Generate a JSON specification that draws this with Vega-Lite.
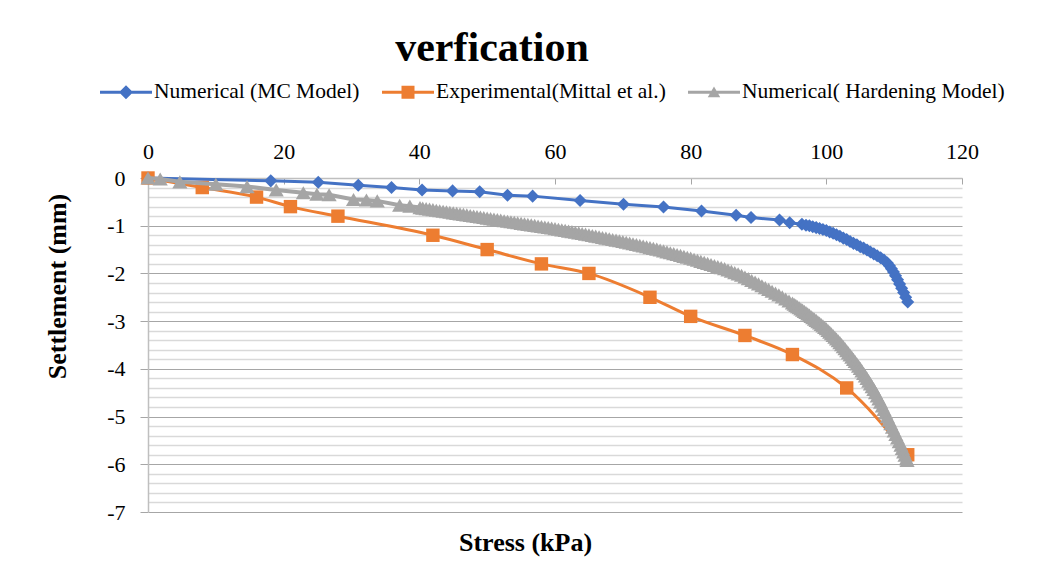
{
  "$schema": "https://vega.github.io/schema/vega-lite/v6.json",
  "autosize": {"type": "none"},
  "width": 814,
  "height": 334,
  "padding": {"left": 148, "top": 178, "right": 81, "bottom": 66},
  "background": "#ffffff",
  "config": {"font": "Liberation Serif", "view": {"stroke": null}},
  "title": {"text": "verfication", "font": "Liberation Serif", "fontSize": 42, "fontWeight": "bold", "color": "#000000", "anchor": "middle", "dx": -63, "dy": 8},
  "datasets": {
    "mc": [
      {"x": 0, "y": 0}, {"x": 18.1, "y": -0.06}, {"x": 25.1, "y": -0.09}, {"x": 31.0, "y": -0.15}, {"x": 35.9, "y": -0.2},
      {"x": 40.4, "y": -0.25}, {"x": 44.9, "y": -0.27}, {"x": 48.9, "y": -0.29}, {"x": 53.0, "y": -0.36}, {"x": 56.7, "y": -0.38},
      {"x": 63.7, "y": -0.47}, {"x": 70.1, "y": -0.55}, {"x": 76.0, "y": -0.61}, {"x": 81.6, "y": -0.69}, {"x": 86.7, "y": -0.78},
      {"x": 88.9, "y": -0.83}, {"x": 93.1, "y": -0.88}, {"x": 94.6, "y": -0.94}, {"x": 96.4, "y": -0.97}, {"x": 97.0, "y": -0.99},
      {"x": 97.5, "y": -1.0}, {"x": 98.0, "y": -1.02}, {"x": 98.5, "y": -1.04}, {"x": 99.0, "y": -1.06}, {"x": 99.5, "y": -1.08},
      {"x": 100.0, "y": -1.1}, {"x": 100.5, "y": -1.13}, {"x": 101.0, "y": -1.16}, {"x": 101.5, "y": -1.19}, {"x": 102.0, "y": -1.22},
      {"x": 102.5, "y": -1.26}, {"x": 103.0, "y": -1.29}, {"x": 103.5, "y": -1.33}, {"x": 104.0, "y": -1.37}, {"x": 104.5, "y": -1.4},
      {"x": 105.0, "y": -1.44}, {"x": 105.5, "y": -1.47}, {"x": 106.0, "y": -1.51}, {"x": 106.5, "y": -1.55}, {"x": 107.0, "y": -1.59},
      {"x": 107.5, "y": -1.63}, {"x": 108.0, "y": -1.67}, {"x": 108.5, "y": -1.72}, {"x": 109.0, "y": -1.78}, {"x": 109.3, "y": -1.84},
      {"x": 109.6, "y": -1.9}, {"x": 109.9, "y": -1.97}, {"x": 110.2, "y": -2.05}, {"x": 110.5, "y": -2.13}, {"x": 110.8, "y": -2.22},
      {"x": 111.1, "y": -2.31}, {"x": 111.4, "y": -2.4}, {"x": 111.7, "y": -2.5}, {"x": 112.0, "y": -2.6}
    ],
    "exp": [
      {"x": 0, "y": 0}, {"x": 8, "y": -0.2}, {"x": 16, "y": -0.4}, {"x": 21, "y": -0.6}, {"x": 28, "y": -0.8},
      {"x": 42, "y": -1.2}, {"x": 50, "y": -1.5}, {"x": 58, "y": -1.8}, {"x": 65, "y": -2.0}, {"x": 74, "y": -2.5},
      {"x": 80, "y": -2.9}, {"x": 88, "y": -3.3}, {"x": 95, "y": -3.7}, {"x": 103, "y": -4.4}, {"x": 112, "y": -5.8}
    ],
    "hard": [
      {"x": 0, "y": 0}, {"x": 1.8, "y": -0.02}, {"x": 4.7, "y": -0.08}, {"x": 10, "y": -0.13}, {"x": 14.6, "y": -0.18},
      {"x": 18.9, "y": -0.25}, {"x": 22.9, "y": -0.31}, {"x": 24.9, "y": -0.34}, {"x": 26.7, "y": -0.35}, {"x": 30.3, "y": -0.45},
      {"x": 32.2, "y": -0.46}, {"x": 33.8, "y": -0.48}, {"x": 37.1, "y": -0.57}, {"x": 38.6, "y": -0.59}, {"x": 40.1, "y": -0.62},
      {"x": 40.5, "y": -0.631}, {"x": 41, "y": -0.642}, {"x": 41.5, "y": -0.653}, {"x": 42, "y": -0.664}, {"x": 42.5, "y": -0.675},
      {"x": 43, "y": -0.686}, {"x": 43.5, "y": -0.697}, {"x": 44, "y": -0.708}, {"x": 44.5, "y": -0.719}, {"x": 45, "y": -0.73},
      {"x": 45.5, "y": -0.741}, {"x": 46, "y": -0.752}, {"x": 46.5, "y": -0.763}, {"x": 47, "y": -0.774}, {"x": 47.5, "y": -0.785},
      {"x": 48, "y": -0.796}, {"x": 48.5, "y": -0.807}, {"x": 49, "y": -0.818}, {"x": 49.5, "y": -0.829}, {"x": 50, "y": -0.84},
      {"x": 50.5, "y": -0.851}, {"x": 51, "y": -0.862}, {"x": 51.5, "y": -0.873}, {"x": 52, "y": -0.884}, {"x": 52.5, "y": -0.895},
      {"x": 53, "y": -0.906}, {"x": 53.5, "y": -0.917}, {"x": 54, "y": -0.928}, {"x": 54.5, "y": -0.939}, {"x": 55, "y": -0.95},
      {"x": 55.5, "y": -0.961}, {"x": 56, "y": -0.972}, {"x": 56.5, "y": -0.983}, {"x": 57, "y": -0.994}, {"x": 57.5, "y": -1.005},
      {"x": 58, "y": -1.016}, {"x": 58.5, "y": -1.027}, {"x": 59, "y": -1.038}, {"x": 59.5, "y": -1.049}, {"x": 60, "y": -1.06},
      {"x": 60.5, "y": -1.073}, {"x": 61, "y": -1.086}, {"x": 61.5, "y": -1.099}, {"x": 62, "y": -1.112}, {"x": 62.5, "y": -1.125},
      {"x": 63, "y": -1.138}, {"x": 63.5, "y": -1.151}, {"x": 64, "y": -1.164}, {"x": 64.5, "y": -1.177}, {"x": 65, "y": -1.19},
      {"x": 65.5, "y": -1.204}, {"x": 66, "y": -1.218}, {"x": 66.5, "y": -1.232}, {"x": 67, "y": -1.246}, {"x": 67.5, "y": -1.26},
      {"x": 68, "y": -1.274}, {"x": 68.5, "y": -1.288}, {"x": 69, "y": -1.302}, {"x": 69.5, "y": -1.316}, {"x": 70, "y": -1.33},
      {"x": 70.5, "y": -1.346}, {"x": 71, "y": -1.362}, {"x": 71.5, "y": -1.378}, {"x": 72, "y": -1.394}, {"x": 72.5, "y": -1.41},
      {"x": 73, "y": -1.426}, {"x": 73.5, "y": -1.442}, {"x": 74, "y": -1.458}, {"x": 74.5, "y": -1.474}, {"x": 75, "y": -1.49},
      {"x": 75.5, "y": -1.509}, {"x": 76, "y": -1.528}, {"x": 76.5, "y": -1.547}, {"x": 77, "y": -1.566}, {"x": 77.5, "y": -1.585},
      {"x": 78, "y": -1.604}, {"x": 78.5, "y": -1.623}, {"x": 79, "y": -1.642}, {"x": 79.5, "y": -1.661}, {"x": 80, "y": -1.68},
      {"x": 80.5, "y": -1.702}, {"x": 81, "y": -1.724}, {"x": 81.5, "y": -1.746}, {"x": 82, "y": -1.768}, {"x": 82.5, "y": -1.79},
      {"x": 83, "y": -1.812}, {"x": 83.5, "y": -1.834}, {"x": 84, "y": -1.856}, {"x": 84.5, "y": -1.878}, {"x": 85, "y": -1.9},
      {"x": 85.5, "y": -1.927}, {"x": 86, "y": -1.955}, {"x": 86.5, "y": -1.982}, {"x": 87, "y": -2.01}, {"x": 87.5, "y": -2.037},
      {"x": 88, "y": -2.074}, {"x": 88.5, "y": -2.11}, {"x": 89, "y": -2.147}, {"x": 89.5, "y": -2.183}, {"x": 90, "y": -2.22},
      {"x": 90.5, "y": -2.258}, {"x": 91, "y": -2.297}, {"x": 91.5, "y": -2.335}, {"x": 92, "y": -2.373}, {"x": 92.5, "y": -2.412},
      {"x": 93, "y": -2.45}, {"x": 93.5, "y": -2.492}, {"x": 94, "y": -2.535}, {"x": 94.5, "y": -2.577}, {"x": 95, "y": -2.62},
      {"x": 95.25, "y": -2.645}, {"x": 95.5, "y": -2.67}, {"x": 95.75, "y": -2.695}, {"x": 96, "y": -2.72}, {"x": 96.25, "y": -2.745},
      {"x": 96.5, "y": -2.77}, {"x": 96.75, "y": -2.795}, {"x": 97, "y": -2.82}, {"x": 97.25, "y": -2.847}, {"x": 97.5, "y": -2.874},
      {"x": 97.75, "y": -2.902}, {"x": 98, "y": -2.93}, {"x": 98.25, "y": -2.957}, {"x": 98.5, "y": -2.985}, {"x": 98.75, "y": -3.012},
      {"x": 99, "y": -3.04}, {"x": 99.25, "y": -3.07}, {"x": 99.5, "y": -3.1}, {"x": 99.75, "y": -3.13}, {"x": 100, "y": -3.16},
      {"x": 100.25, "y": -3.195}, {"x": 100.5, "y": -3.23}, {"x": 100.75, "y": -3.265}, {"x": 101, "y": -3.3}, {"x": 101.25, "y": -3.337},
      {"x": 101.5, "y": -3.375}, {"x": 101.75, "y": -3.412}, {"x": 102, "y": -3.45}, {"x": 102.25, "y": -3.492}, {"x": 102.5, "y": -3.535},
      {"x": 102.75, "y": -3.577}, {"x": 103, "y": -3.62}, {"x": 103.25, "y": -3.665}, {"x": 103.5, "y": -3.71}, {"x": 103.75, "y": -3.755},
      {"x": 104, "y": -3.8}, {"x": 104.25, "y": -3.847}, {"x": 104.5, "y": -3.895}, {"x": 104.75, "y": -3.942}, {"x": 105, "y": -3.99},
      {"x": 105.25, "y": -4.042}, {"x": 105.5, "y": -4.095}, {"x": 105.75, "y": -4.147}, {"x": 106, "y": -4.2}, {"x": 106.25, "y": -4.257},
      {"x": 106.5, "y": -4.315}, {"x": 106.75, "y": -4.372}, {"x": 107, "y": -4.43}, {"x": 107.25, "y": -4.497}, {"x": 107.5, "y": -4.565},
      {"x": 107.75, "y": -4.632}, {"x": 108, "y": -4.7}, {"x": 108.25, "y": -4.775}, {"x": 108.5, "y": -4.85}, {"x": 108.75, "y": -4.925},
      {"x": 109, "y": -5.0}, {"x": 109.25, "y": -5.075}, {"x": 109.5, "y": -5.15}, {"x": 109.75, "y": -5.225}, {"x": 110, "y": -5.3},
      {"x": 110.25, "y": -5.375}, {"x": 110.5, "y": -5.45}, {"x": 110.75, "y": -5.525}, {"x": 111, "y": -5.6}, {"x": 111.2, "y": -5.67},
      {"x": 111.4, "y": -5.74}, {"x": 111.6, "y": -5.81}, {"x": 111.8, "y": -5.88}, {"x": 111.9, "y": -5.92}
    ],
    "names": [
      {"series": "Numerical (MC Model)"}, {"series": "Experimental(Mittal et al.)"}, {"series": "Numerical( Hardening Model)"}
    ]
  },
  "resolve": {"axis": {"y": "independent"}},
  "layer": [
    {
      "data": {"name": "mc"},
      "mark": {"type": "line", "strokeWidth": 3},
      "encoding": {
        "x": {"field": "x", "type": "quantitative", "scale": {"domain": [0, 120], "nice": false},
          "axis": {"orient": "top", "values": [0, 20, 40, 60, 80, 100, 120], "grid": false, "domainColor": "#BFBFBF", "domainWidth": 1.5,
            "tickColor": "#A6A6A6", "tickSize": -6, "labelFontSize": 22, "labelColor": "#000000", "labelFont": "Liberation Serif", "labelPadding": 21, "labelFlush": false,
            "title": "Stress (kPa)", "titleFont": "Liberation Serif", "titleFontSize": 26, "titleFontWeight": "bold", "titleColor": "#000000",
            "titleX": 377, "titleY": 364, "titleAlign": "center", "titleBaseline": "middle", "titleAngle": 0}},
        "y": {"field": "y", "type": "quantitative", "scale": {"domain": [-7, 0], "nice": false},
          "axis": {"orient": "left", "values": [-6.8, -6.6, -6.4, -6.2, -5.8, -5.6, -5.4, -5.2, -4.8, -4.6, -4.4, -4.2, -3.8, -3.6, -3.4, -3.2, -2.8, -2.6, -2.4, -2.2, -1.8, -1.6, -1.4, -1.2, -0.8, -0.6, -0.4, -0.2],
            "grid": true, "gridColor": "#D9D9D9", "gridWidth": 1.5, "labels": false, "ticks": false, "domain": false, "title": null}},
        "color": {"datum": "Numerical (MC Model)", "scale": {"domain": ["Numerical (MC Model)", "Experimental(Mittal et al.)", "Numerical( Hardening Model)"], "range": ["#4472C4", "#ED7D31", "#A5A5A5"]}},
        "order": {"field": "x"}
      }
    },
    {
      "data": {"name": "mc"},
      "mark": {"type": "point", "shape": "diamond", "filled": true, "opacity": 1, "size": 170},
      "encoding": {
        "x": {"field": "x", "type": "quantitative"},
        "y": {"field": "y", "type": "quantitative",
          "axis": {"orient": "left", "values": [-7, -6, -5, -4, -3, -2, -1, 0], "grid": true, "gridColor": "#A6A6A6", "gridWidth": 1,
            "domainColor": "#BFBFBF", "domainWidth": 1.5, "tickColor": "#A6A6A6", "tickSize": 8, "labelFontSize": 22, "labelColor": "#000000",
            "labelFont": "Liberation Serif", "labelPadding": 15, "labelFlush": false, "labelExpr": "'' + datum.value",
            "title": "Settlement (mm)", "titleFont": "Liberation Serif", "titleFontSize": 26, "titleFontWeight": "bold", "titleColor": "#000000",
            "titleX": -91, "titleY": 108, "titleAngle": -90, "titleAlign": "center", "titleBaseline": "middle"}},
        "color": {"datum": "Numerical (MC Model)"}
      }
    },
    {
      "data": {"name": "exp"},
      "mark": {"type": "line", "strokeWidth": 3, "interpolate": "monotone"},
      "encoding": {
        "x": {"field": "x", "type": "quantitative"},
        "y": {"field": "y", "type": "quantitative", "axis": null},
        "color": {"datum": "Experimental(Mittal et al.)"},
        "order": {"field": "x"}
      }
    },
    {
      "data": {"name": "exp"},
      "mark": {"type": "point", "shape": "square", "filled": true, "opacity": 1, "size": 180},
      "encoding": {
        "x": {"field": "x", "type": "quantitative"},
        "y": {"field": "y", "type": "quantitative", "axis": null},
        "color": {"datum": "Experimental(Mittal et al.)"}
      }
    },
    {
      "data": {"name": "hard"},
      "mark": {"type": "line", "strokeWidth": 4},
      "encoding": {
        "x": {"field": "x", "type": "quantitative"},
        "y": {"field": "y", "type": "quantitative", "axis": null},
        "color": {"datum": "Numerical( Hardening Model)"},
        "order": {"field": "x"}
      }
    },
    {
      "data": {"name": "hard"},
      "mark": {"type": "point", "shape": "triangle-up", "filled": true, "opacity": 1, "size": 230},
      "encoding": {
        "x": {"field": "x", "type": "quantitative"},
        "y": {"field": "y", "type": "quantitative", "axis": null},
        "color": {"datum": "Numerical( Hardening Model)"}
      }
    },
    {
      "data": {"name": "names"},
      "mark": {"type": "point", "filled": true, "opacity": 1, "size": 2704, "clip": true},
      "encoding": {
        "x": {"datum": 0, "type": "quantitative"},
        "y": {"datum": 6, "type": "quantitative", "axis": null},
        "color": {"field": "series", "type": "nominal",
          "scale": {"domain": ["Numerical (MC Model)", "Experimental(Mittal et al.)", "Numerical( Hardening Model)"], "range": ["#4472C4", "#ED7D31", "#A5A5A5"]},
          "legend": {"orient": "none", "legendX": -48, "legendY": -112, "direction": "horizontal", "title": null,
            "labelFont": "Liberation Serif", "labelFontSize": 21.5, "labelColor": "#000000", "labelOffset": 2, "columnPadding": 22,
            "padding": 0, "symbolStrokeWidth": 0, "symbolSize": 2704, "labelLimit": 400}},
        "shape": {"field": "series", "type": "nominal",
          "scale": {"domain": ["Numerical (MC Model)", "Experimental(Mittal et al.)", "Numerical( Hardening Model)"],
            "range": ["M-1,-0.06L1,-0.06L1,0.06L-1,0.06Z M0,-0.27L0.27,0L0,0.27L-0.27,0Z",
                      "M-1,-0.06L1,-0.06L1,0.06L-1,0.06Z M-0.25,-0.25L0.25,-0.25L0.25,0.25L-0.25,0.25Z",
                      "M-1,-0.06L1,-0.06L1,0.06L-1,0.06Z M0,-0.22L0.24,0.19L-0.24,0.19Z"]},
          "legend": {"orient": "none", "legendX": -48, "legendY": -112, "direction": "horizontal", "title": null,
            "labelFont": "Liberation Serif", "labelFontSize": 21.5, "labelColor": "#000000", "labelOffset": 2, "columnPadding": 22,
            "padding": 0, "symbolStrokeWidth": 0, "symbolSize": 2704, "labelLimit": 400}}
      }
    }
  ]
}
